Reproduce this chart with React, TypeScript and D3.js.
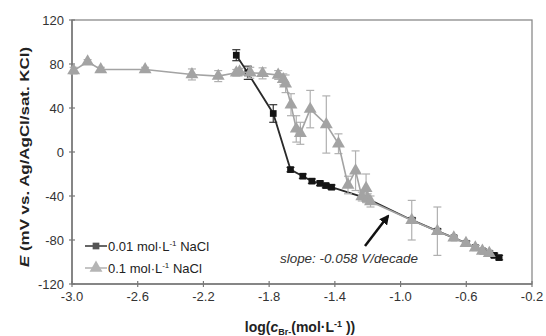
import React from "react";
import * as d3 from "d3";

// 0.01 mol/L NaCl series (black squares)
const lowX = [-2.0, -1.93, -1.775, -1.67, -1.595, -1.54, -1.49, -1.455, -1.42, -1.21, -0.93, -0.775, -0.675, -0.6, -0.545, -0.5, -0.46, -0.43, -0.4];
const lowY = [88, 72, 35, -16, -22, -26.5, -28.5, -30.5, -32, -42, -62, -72, -78, -83, -87, -90, -92, -94, -96];
const lowErr = [5, 6, 8, 2, 2, 2, 2, 2, 2, 2, 2, 2, 2, 2, 2, 2, 2, 2, 2];

// 0.1 mol/L NaCl series (grey triangles)
const highX = [-2.99, -2.905, -2.825, -2.555, -2.27, -2.11, -2.0, -1.98, -1.915, -1.84, -1.745, -1.714, -1.7, -1.667, -1.635, -1.61, -1.55, -1.452, -1.378, -1.32, -1.274, -1.236, -1.21, -1.2, -1.183, -0.932, -0.776, -0.676, -0.602, -0.545, -0.502, -0.46];
const highY = [74, 82, 75, 75, 70.5, 69, 72, 73, 72, 71.5, 70, 66, 62, 43, 21, 17, 39, 25, 7.5, -30, -17, -40.5, -33, -42, -45, -62, -72, -78, -83, -87, -90, -92];
const highErr = [3, 2, 2, 2, 5, 5, 3, 3, 5, 5, 4, 5, 8, 10, 12, 10, 17, 26, 9, 8, 18, 4, 13, 4, 5, 18, 22, 2, 2, 2, 2, 2];

const xTicks = [-3.0, -2.6, -2.2, -1.8, -1.4, -1.0, -0.6, -0.2];
const yTicks = [-120, -80, -40, 0, 40, 80, 120];

const W = 546;
const H = 336;
const left = 72;
const right = 532;
const top = 20;
const bottom = 284;
const font = "'Liberation Sans', Arial, sans-serif";

export default function App() {
  const x = d3.scaleLinear().domain([-3.0, -0.2]).range([left, right]);
  const y = d3.scaleLinear().domain([-120, 120]).range([bottom, top]);

  const low = lowX.map((v, i) => ({ x: v, y: lowY[i], e: lowErr[i] }));
  const high = highX.map((v, i) => ({ x: v, y: highY[i], e: highErr[i] }));

  const line = d3
    .line<{ x: number; y: number }>()
    .x((d) => x(d.x))
    .y((d) => y(d.y));

  const tri = d3.symbol().type(d3.symbolTriangle).size(72)();
  const sq = d3.symbol().type(d3.symbolSquare).size(45)();

  const lowColor = "#2a2a2a";
  const highColor = "#a3a3a3";
  const errLow = "#333";
  const errHigh = "#b0b0b0";

  const errBars = (data: { x: number; y: number; e: number }[], color: string) =>
    data.map((d, i) => {
      const cx = x(d.x);
      const y1 = y(d.y + d.e);
      const y2 = y(d.y - d.e);
      return (
        <g key={i} stroke={color} strokeWidth={1.2}>
          <line x1={cx} x2={cx} y1={y1} y2={y2} />
          <line x1={cx - 4} x2={cx + 4} y1={y1} y2={y1} />
          <line x1={cx - 4} x2={cx + 4} y1={y2} y2={y2} />
        </g>
      );
    });

  return (
    <svg
      width={W}
      height={H}
      style={{ position: "absolute", left: 0, top: 0, background: "#fff" }}
      fontFamily={font}
    >
      <rect x={0} y={0} width={W} height={H} fill="#fff" />
      {/* plot frame */}
      <rect
        x={left}
        y={top}
        width={right - left}
        height={bottom - top}
        fill="none"
        stroke="#8a8a8a"
        strokeWidth={1.3}
      />

      {/* y axis */}
      <line x1={left} x2={left} y1={top} y2={bottom} stroke="#777" strokeWidth={1.5} />
      {yTicks.map((t) => (
        <g key={t}>
          <line x1={left - 3} x2={left + 3} y1={y(t)} y2={y(t)} stroke="#777" strokeWidth={1.2} />
          <text
            x={left - 8}
            y={y(t)}
            dy="0.35em"
            textAnchor="end"
            fontSize={13}
            fill="#333"
          >
            {t}
          </text>
        </g>
      ))}

      {/* x axis */}
      <line x1={left} x2={right} y1={bottom} y2={bottom} stroke="#777" strokeWidth={1.5} />
      {xTicks.map((t) => (
        <g key={t}>
          <line x1={x(t)} x2={x(t)} y1={bottom - 3} y2={bottom + 3} stroke="#777" strokeWidth={1.2} />
          <text
            x={x(t)}
            y={bottom + 12}
            dy="0.35em"
            textAnchor="middle"
            fontSize={13}
            fill="#333"
          >
            {t.toFixed(1)}
          </text>
        </g>
      ))}

      {/* series: 0.01 NaCl */}
      {errBars(low, errLow)}
      <path d={line(low) || ""} fill="none" stroke={lowColor} strokeWidth={1.8} />
      {low.map((d, i) => (
        <path key={i} d={sq || ""} transform={`translate(${x(d.x)},${y(d.y)})`} fill="#141414" />
      ))}

      {/* series: 0.1 NaCl */}
      {errBars(high, errHigh)}
      <path d={line(high) || ""} fill="none" stroke={highColor} strokeWidth={1.6} />
      {high.map((d, i) => (
        <path key={i} d={tri || ""} transform={`translate(${x(d.x)},${y(d.y)})`} fill={highColor} />
      ))}

      {/* legend */}
      <g>
        <line x1={85} x2={107} y1={246} y2={246} stroke="#555" strokeWidth={1.8} />
        <path d={sq || ""} transform="translate(96,246)" fill="#555" />
        <text x={108} y={246} dy="0.35em" fontSize={13} fill="#222">
          0.01 mol·L
          <tspan fontSize={8} dy="-5">-1</tspan>
          <tspan dy="5"> NaCl</tspan>
        </text>
        <line x1={85} x2={107} y1={268} y2={268} stroke="#b5b5b5" strokeWidth={1.6} />
        <path d={tri || ""} transform="translate(96,268)" fill="#b5b5b5" />
        <text x={108} y={268} dy="0.35em" fontSize={13} fill="#222">
          0.1 mol·L
          <tspan fontSize={8} dy="-5">-1</tspan>
          <tspan dy="5"> NaCl</tspan>
        </text>
      </g>

      {/* annotation */}
      <defs>
        <marker id="ah" viewBox="0 0 10 10" refX="8" refY="5" markerWidth="4" markerHeight="4" orient="auto">
          <path d="M0,0 L10,5 L0,10 z" fill="#111" />
        </marker>
      </defs>
      <line x1={365} y1={246} x2={388} y2={216} stroke="#111" strokeWidth={2.5} markerEnd="url(#ah)" />
      <text x={280} y={258} dy="0.35em" fontSize={13} fontStyle="italic" fill="#333" textLength={138} lengthAdjust="spacingAndGlyphs">
        slope: -0.058 V/decade
      </text>

      {/* axis titles */}
      <text
        transform={`translate(24,157) rotate(-90)`}
        textAnchor="middle"
        dy="0.35em"
        fontSize={13.5}
        fontWeight="bold"
        fill="#222"
        textLength={220}
        lengthAdjust="spacingAndGlyphs"
      >
        <tspan fontStyle="italic">E</tspan> (mV vs. Ag/AgCl/sat. KCl)
      </text>
      <text x={300} y={327} dy="0.35em" textAnchor="middle" fontSize={14} fontWeight="bold" fill="#222">
        log(
        <tspan fontStyle="italic">c</tspan>
        <tspan fontSize={9} dy="3">Br-</tspan>
        <tspan dy="-3">(mol·L</tspan>
        <tspan fontSize={9} dy="-5">-1</tspan>
        <tspan dy="5"> ))</tspan>
      </text>
    </svg>
  );
}
